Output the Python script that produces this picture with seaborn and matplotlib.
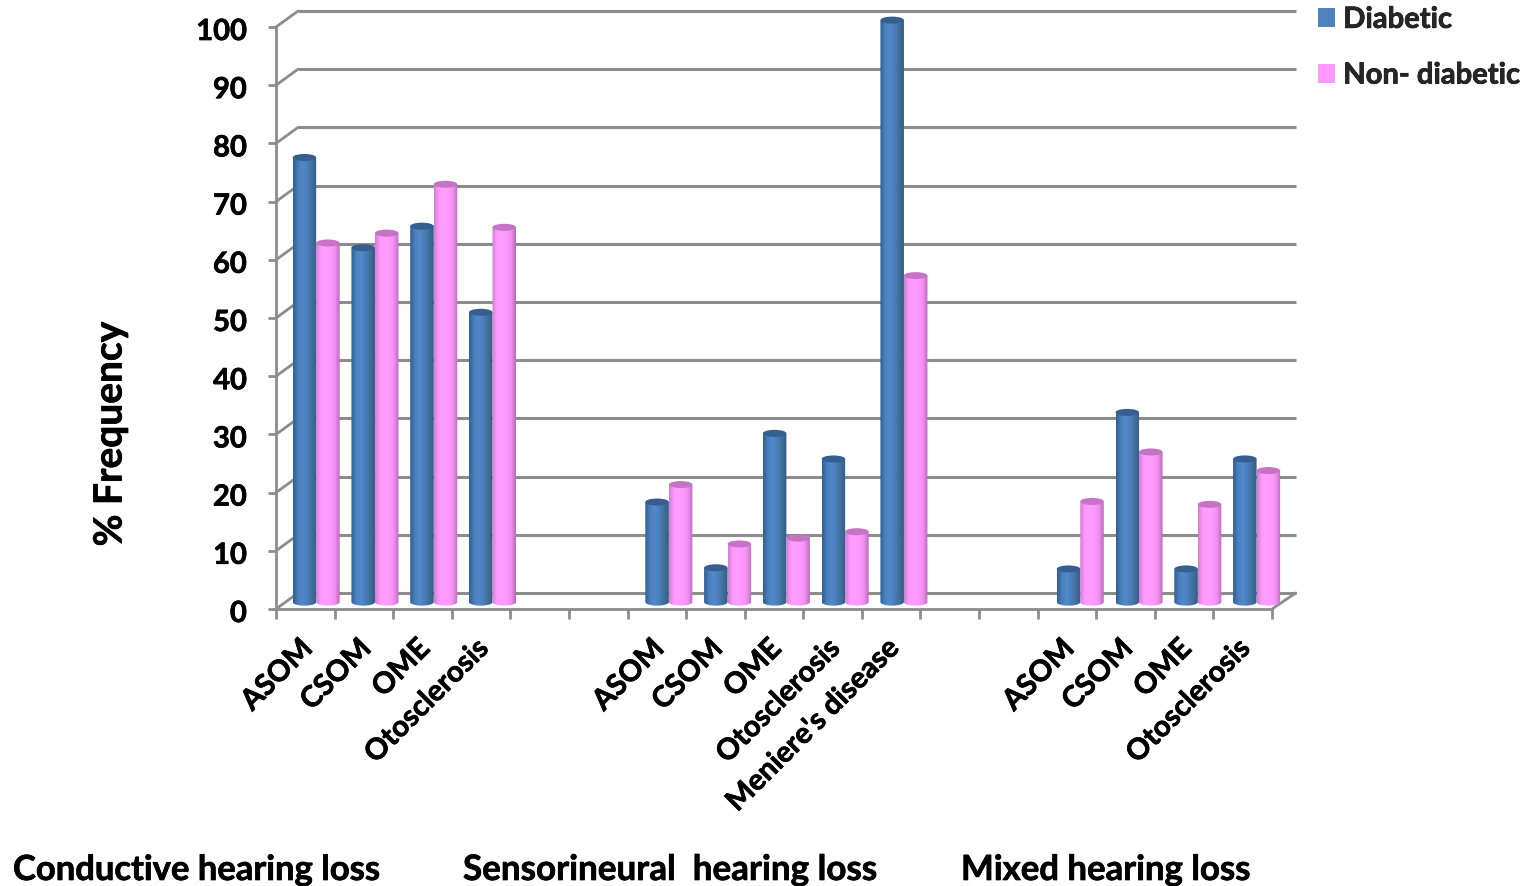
import numpy as np
import pandas as pd
import matplotlib
matplotlib.use("Agg")
import matplotlib.pyplot as plt
import matplotlib.patheffects as pe
import seaborn as sns
from matplotlib.colors import LinearSegmentedColormap
from matplotlib.patches import Patch, PathPatch, Ellipse
from matplotlib.path import Path
from matplotlib.text import Text
from matplotlib.transforms import Affine2D

categories = ["ASOM", "CSOM", "OME", "Otosclerosis", "", "",
              "ASOM", "CSOM", "OME", "Otosclerosis", "Meniere's disease", "", "",
              "ASOM", "CSOM", "OME", "Otosclerosis"]
diabetic = [76.4, 60.9, 64.6, 49.8, None, None,
            17.2, 5.9, 29.0, 24.6, 100.0, None, None,
            5.7, 32.6, 5.7, 24.6]
non_diabetic = [61.7, 63.4, 71.8, 64.4, None, None,
                20.2, 10.0, 11.0, 12.1, 56.1, None, None,
                17.3, 25.8, 16.8, 22.6]
series_names = ["Diabetic", "Non- diabetic"]
group_titles = ["Conductive hearing loss", "Sensorineural  hearing loss", "Mixed hearing loss"]
y_ticks = list(range(0, 101, 10))

sns.set_style("white")
plt.rcParams["font.family"] = ["Lato", "DejaVu Sans"]
plt.rcParams["font.weight"] = "bold"

W, H = 1529, 887
fig = plt.figure(figsize=(W / 100, H / 100), dpi=100)
ax = fig.add_axes([276 / W, 1 - 610 / H, 996 / W, 582 / H])

slots = list(range(len(categories)))
df = pd.DataFrame({
    "slot": slots * 2,
    "series": [series_names[0]] * len(slots) + [series_names[1]] * len(slots),
    "value": diabetic + non_diabetic,
}).dropna()

palette = {series_names[0]: "#4f81bd", series_names[1]: "#ff99ff"}
sns.barplot(data=df, x="slot", y="value", hue="series", hue_order=series_names,
            order=slots, palette=palette, width=0.8, gap=0, saturation=1,
            legend=False, ax=ax, zorder=3)

ax.set_xlim(-0.5, len(slots) - 0.5)
ax.set_ylim(0, 100)
ax.set_xlabel("")
ax.set_ylabel("")

# depth of the pseudo-3D box, in data units
depth_x, depth_y = 22 / (996 / 17), 16 / 5.82
grid_c = "#8c8c8c"
back = Affine2D().translate(depth_x, depth_y) + ax.transData
mid = (Affine2D().translate(0.5, 0).scale(1.0032, 1).translate(-0.5, 0)
       .translate(depth_x * 0.49, depth_y * 0.43) + ax.transData)

xl, xr = ax.get_xlim()
ax.hlines(y_ticks, xl, xr + 0.03, colors=grid_c, lw=2.2, transform=back, zorder=1, clip_on=False)
for yv in y_ticks:
    ax.plot([xl, xl + depth_x], [yv, yv + depth_y], color=grid_c, lw=2, zorder=1, clip_on=False)
ax.plot([xr, xr + depth_x + 0.03], [0, depth_y], color=grid_c, lw=2, zorder=1, clip_on=False)

blue_cm = LinearSegmentedColormap.from_list("b", ["#2f5f92", "#4a7fbc", "#5389cc", "#4a7fbc", "#427099", "#2f5b8c"])
pink_cm = LinearSegmentedColormap.from_list("p", ["#cf7fcf", "#ff99ff", "#ff9dff", "#ff99ff", "#f08ff0", "#b96ab9"])
styles = [(blue_cm, "#365f8f"), (pink_cm, "#c673c6")]
grad = np.linspace(0, 1, 64).reshape(1, -1)
cap_h = 7 / 5.82

for container, (cm, cap_c) in zip(ax.containers, styles):
    for p in container:
        x0, w, top = p.get_x(), p.get_width(), p.get_height()
        if not top or np.isnan(top):
            continue
        p.set_transform(mid)
        p.set_visible(False)
        t = np.linspace(np.pi, 2 * np.pi, 40)
        xs = x0 + w / 2 + w / 2 * np.cos(t)
        ys = cap_h / 2 * np.sin(t)
        verts = list(zip(xs, ys)) + [(x0 + w, top), (x0, top), (x0, 0)]
        outline = Path(verts + [(x0, 0)], [Path.MOVETO] + [Path.LINETO] * (len(verts) - 1) + [Path.CLOSEPOLY])
        im = ax.imshow(grad, cmap=cm, extent=(x0, x0 + w, -cap_h, top), aspect="auto",
                       transform=mid, zorder=3, interpolation="bilinear")
        im.set_clip_box(fig.bbox)
        im.set_clip_path(PathPatch(outline, transform=mid))
        ax.add_patch(Ellipse((x0 + w / 2, top), w, cap_h, facecolor=cap_c, edgecolor="none",
                             transform=mid, zorder=3.1, clip_on=False))

ax.set_xlim(xl, xr)
ax.set_ylim(0, 100)

for s in ["top", "right"]:
    ax.spines[s].set_visible(False)
for s in ["left", "bottom"]:
    ax.spines[s].set_color(grid_c)
    ax.spines[s].set_linewidth(2)

ax.set_yticks(y_ticks)
ax.set_yticklabels([str(v) for v in y_ticks], fontsize=21, fontweight="bold", color="black")
ax.tick_params(axis="y", left=True, length=6, width=2, color=grid_c, pad=15)
for lab in ax.get_yticklabels():
    lab.set_transform(lab.get_transform() + Affine2D().translate(0, -2.5))

ax.set_xticks(slots)
ax.set_xticklabels(categories, fontsize=21, fontweight="bold", rotation=45, ha="right",
                   rotation_mode="anchor", color="black")
ax.set_xticks(np.arange(-0.5, len(slots)), minor=True)
ax.tick_params(axis="x", which="major", bottom=False, pad=16)
ax.tick_params(axis="x", which="minor", bottom=True, length=7, width=2, color=grid_c)
for lab in ax.get_xticklabels():
    lab.set_transform(lab.get_transform() + Affine2D().translate(-6, 1))

handles = [Patch(facecolor=palette[n], edgecolor="none", label=n) for n in series_names]
fig.legend(handles=handles, loc="upper left", bbox_to_anchor=(1312 / W, 1 - 2 / H),
           frameon=False, fontsize=21, handlelength=0.6, handleheight=0.6,
           handletextpad=0.27, labelspacing=1.02, borderpad=0.2, borderaxespad=0)

fig.text(110 / W, 1 - 435 / H, "% Frequency", rotation=90, ha="center", va="center",
         fontsize=28, fontweight="bold", color="black")
for title, px, fs in zip(group_titles, [13, 463, 961], [24.9, 25.2, 25.0]):
    fig.text(px / W, 1 - 871 / H, title, ha="left", va="center", fontsize=fs,
             fontweight="bold", color="black")

for txt in fig.findobj(Text):
    txt.set_path_effects([pe.withStroke(linewidth=0.5, foreground="black")])

fig.savefig("out.png", dpi=100, facecolor="white")
